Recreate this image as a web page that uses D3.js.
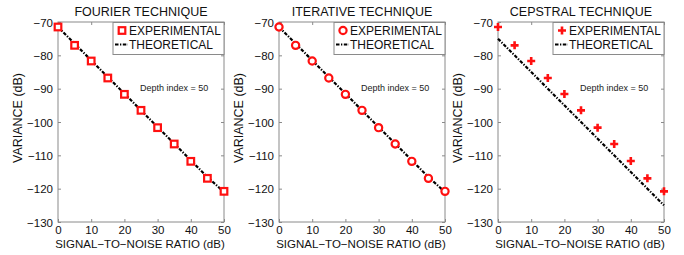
<!DOCTYPE html>
<html><head><meta charset="utf-8">
<script src="https://cdn.jsdelivr.net/npm/d3@7"></script>
<style>body{margin:0;background:#fff}svg{display:block}text{font-family:"Liberation Sans",Arial,Helvetica,sans-serif}</style>
</head><body><svg id="c" width="684" height="255"></svg>
<script>
const snr = [0,5,10,15,20,25,30,35,40,45,50];
const titles = ["FOURIER TECHNIQUE","ITERATIVE TECHNIQUE","CEPSTRAL TECHNIQUE"];
const markerTypes = ["square","circle","plus"];
const expFourier   = [-71.5,-77,-81.7,-86.8,-91.7,-96.5,-101.7,-106.6,-111.8,-116.9,-120.8];
const expIterative = [-71.5,-77,-81.7,-86.8,-91.7,-96.5,-101.7,-106.6,-111.8,-116.9,-120.8];
const expCepstral  = [-71.5,-77,-81.7,-86.8,-91.6,-96.5,-101.7,-106.6,-111.7,-116.9,-120.8];
const theoFourier   = [-71.5,-76.5,-81.5,-86.5,-91.5,-96.5,-101.5,-106.5,-111.5,-116.5,-121];
const theoIterative = [-71.5,-76.5,-81.5,-86.5,-91.5,-96.5,-101.5,-106.5,-111.5,-116.5,-121];
const theoCepstral  = [-75,-80,-85,-90,-95,-100,-105,-110,-115,-120,-125];
const xTicks = [0,10,20,30,40,50];
const yTicks = [-70,-80,-90,-100,-110,-120,-130];
const legendLabels = ["EXPERIMENTAL","THEORETICAL"];
const annotation = "Depth index = 50";
const xLabel = "SIGNAL\u2212TO\u2212NOISE RATIO (dB)";
const yLabel = "VARIANCE (dB)";

const exps = [expFourier, expIterative, expCepstral];
const theos = [theoFourier, theoIterative, theoCepstral];
const lefts = [58, 279, 498];
const W = 166, plotTop = 22, plotBottom = 222;
const svg = d3.select("#c");
const axisCol = "#8a8a8a";
const red = "#ff1010";

function marker(g, type, x, y) {
  if (type === "square") {
    g.append("rect").attr("x", x-3.3).attr("y", y-3.3).attr("width", 6.6).attr("height", 6.6)
      .attr("fill", "#fff").attr("stroke", red).attr("stroke-width", 2.2);
  } else if (type === "circle") {
    g.append("circle").attr("cx", x).attr("cy", y).attr("r", 3.6)
      .attr("fill", "#fff").attr("stroke", red).attr("stroke-width", 2.2);
  } else {
    g.append("path").attr("d", `M${x-4},${y}H${x+4}M${x},${y-4}V${y+4}`)
      .attr("stroke", red).attr("stroke-width", 2.6).attr("fill", "none");
  }
}

for (let p = 0; p < 3; p++) {
  const L = lefts[p];
  const x = d3.scaleLinear().domain([0,50]).range([L, L+W]);
  const y = d3.scaleLinear().domain([-130,-70]).range([plotBottom, plotTop]);
  const g = svg.append("g");

  g.append("rect").attr("x", L).attr("y", plotTop).attr("width", W).attr("height", plotBottom-plotTop)
    .attr("fill", "none").attr("stroke", axisCol).attr("stroke-width", 1);

  const ax = g.append("g").attr("transform", `translate(0,${plotBottom})`)
    .call(d3.axisBottom(x).tickValues(xTicks).tickSizeInner(-3).tickSizeOuter(0).tickPadding(4));
  const axT = g.append("g").attr("transform", `translate(0,${plotTop})`)
    .call(d3.axisTop(x).tickValues(xTicks).tickSizeInner(-3).tickSizeOuter(0).tickFormat(""));
  const ay = g.append("g").attr("transform", `translate(${L},0)`)
    .call(d3.axisLeft(y).tickValues(yTicks).tickSizeInner(-3).tickSizeOuter(0).tickPadding(5)
      .tickFormat(d => d < 0 ? "\u2212" + Math.abs(d) : d));
  const ayR = g.append("g").attr("transform", `translate(${L+W},0)`)
    .call(d3.axisRight(y).tickValues(yTicks).tickSizeInner(-3).tickSizeOuter(0).tickFormat(""));
  [ax, axT, ay, ayR].forEach(a => {
    a.select(".domain").remove();
    a.selectAll("line").attr("stroke", axisCol);
    a.selectAll("text").attr("fill", "#111").style("font-size", "11.5px");
  });
  ay.selectAll("text").attr("dy", "0.35em");

  const line = d3.line().x((d,i) => x(snr[i])).y(d => y(d));
  g.append("path").datum(theos[p]).attr("d", line).attr("fill", "none")
    .attr("stroke", "#000").attr("stroke-width", 2.2).attr("stroke-dasharray", "3.5,1.5,1.3,1.5");

  exps[p].forEach((v,i) => marker(g, markerTypes[p], x(snr[i]), y(v)));

  g.append("text").attr("x", L + W/2).attr("y", 16).attr("text-anchor", "middle")
    .style("font-size", "12.5px").attr("fill", "#111").text(titles[p]);

  g.append("text").attr("x", L + W/2 - 1).attr("y", 248).attr("text-anchor", "middle")
    .style("font-size", "11.5px").attr("fill", "#111").text(xLabel);
  g.append("text").attr("transform", `translate(${L-36},${(plotTop+plotBottom)/2 - 4}) rotate(-90)`)
    .attr("text-anchor", "middle").style("font-size", "12.5px").attr("fill", "#111").text(yLabel);

  g.append("text").attr("x", L + 82).attr("y", 91).style("font-size", "9px").attr("fill", "#222").text(annotation);

  const lx = L + 55, ly = plotTop + 0.5, lw = W - 55, lh = 32;
  g.append("rect").attr("x", lx).attr("y", ly).attr("width", lw).attr("height", lh)
    .attr("fill", "#fff").attr("stroke", axisCol).attr("stroke-width", 1);
  marker(g, markerTypes[p], lx + 9, ly + 8);
  g.append("text").attr("x", lx + 16).attr("y", ly + 12.5).style("font-size", "12px").attr("fill", "#111").text(legendLabels[0]);
  g.append("path").attr("d", `M${lx+2},${ly+22}H${lx+15}`).attr("stroke", "#000").attr("stroke-width", 2.2)
    .attr("stroke-dasharray", "3.5,1.5,1.3,1.5");
  g.append("text").attr("x", lx + 16).attr("y", ly + 26.5).style("font-size", "12px").attr("fill", "#111").text(legendLabels[1]);
}
</script></body></html>
